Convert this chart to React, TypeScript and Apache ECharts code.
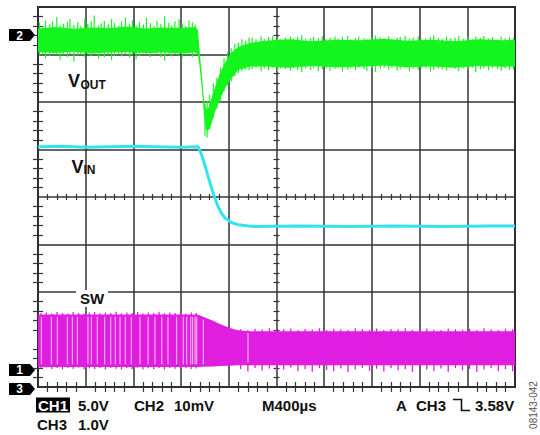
import React, { useEffect, useRef } from "react";
import * as echarts from "echarts";

// ---- time base: M400µs per division, 10 divisions (µs from left edge) ----
const timeMin = 0;
const timeMax = 4000;
const timePerDiv = 400;

// ---- CH2  V_OUT (AC coupled, 10 mV/div) in mV : noise band envelope ----
const vOutT = [0, 150, 300, 450, 600, 750, 900, 1050, 1200, 1320, 1342, 1354, 1367, 1380, 1392, 1409, 1426, 1451, 1484, 1526, 1568, 1610, 1677, 1778, 1900, 2100, 2300, 2500, 2700, 2900, 3100, 3300, 3500, 3700, 3900, 4000];
const vOutHi = [1.4, 1.7, 1.3, 1.6, 1.5, 1.8, 1.4, 1.6, 1.5, 1.7, 1.0, -3.0, -6.5, -10.0, -13.5, -15.5, -15.5, -13.6, -11.0, -8.0, -5.9, -4.0, -2.5, -1.7, -1.2, -0.9, -1.3, -1.0, -1.1, -0.8, -1.2, -1.0, -1.3, -0.9, -1.1, -1.0];
const vOutLo = [-3.6, -3.8, -3.5, -3.9, -3.7, -3.6, -3.8, -3.7, -3.9, -3.6, -4.2, -6.5, -9.5, -13.0, -17.0, -20.0, -20.2, -19.0, -16.2, -13.5, -11.2, -9.5, -7.4, -6.6, -6.6, -6.9, -6.5, -6.8, -6.7, -6.4, -6.8, -6.6, -6.9, -6.5, -6.7, -6.6];

// V_OUT noise spikes (mV): before, during and after the transient
const vOutSpikeT = [12, 41, 63, 98, 121, 158, 186, 214, 247, 268, 301, 333, 359, 392, 418, 447, 471, 508, 529, 556, 590, 617, 641, 676, 702, 733, 768, 791, 823, 851, 884, 909, 942, 975, 998, 1031, 1062, 1097, 1119, 1148, 1183, 1209, 1238, 1266, 1294, 1318,
  1400, 1418, 1440, 1470, 1500, 1530, 1560, 1590, 1620, 1650, 1680, 1710, 1740, 1770,
  1795, 1828, 1871, 1897, 1934, 1968, 2009, 2033, 2074, 2118, 2141, 2177, 2212, 2246, 2287, 2309, 2351, 2384, 2418, 2449, 2491, 2516, 2553, 2597, 2621, 2662, 2689, 2734, 2757, 2798, 2829, 2871, 2903, 2941, 2968, 3012, 3037, 3079, 3114, 3146, 3188, 3213, 3252, 3291, 3318, 3357, 3389, 3426, 3461, 3497, 3528, 3569, 3603, 3642, 3671, 3712, 3738, 3779, 3811, 3852, 3884, 3917, 3953, 3988];
const vOutSpikeHi = [2.6, 1.9, 3.1, 2.2, 2.9, 3.8, 2.0, 2.4, 2.8, 3.3, 2.1, 2.7, 1.9, 3.5, 2.3, 2.9, 4.1, 2.0, 2.5, 3.0, 2.2, 3.4, 2.6, 1.9, 2.9, 3.7, 2.4, 3.1, 2.0, 2.7, 2.2, 3.6, 2.5, 1.9, 3.0, 2.3, 3.9, 2.6, 2.0, 2.9, 3.3, 2.4, 1.9, 3.0, 2.7, 2.2,
  -14.5, -14.0, -12.5, -10.2, -9.0, -6.8, -4.9, -3.6, -2.8, -1.9, -1.6, -0.9, -1.2, -0.5,
  -0.6, -0.9, -0.3, -0.8, -0.4, -0.2, -0.7, -0.9, -0.5, -0.3, -0.8, -0.4, -0.1, -0.9, -0.6, -0.4, -0.7, -0.2, -0.9, -0.5, -0.3, -0.8, -0.4, -0.2, -0.9, -0.6, -0.3, -0.7, -0.9, -0.4, -0.1, -0.5, -0.8, -0.3, -0.9, -0.6, -0.4, -0.2, -0.8, -0.5, -0.3, -0.9, -0.7, -0.4, -0.1, -0.6, -0.9, -0.3, -0.7, -0.5, -0.2, -0.8, -0.4, -0.9, -0.3, -0.6, -0.2, -0.8, -0.5, -0.9, -0.3, -0.7, -0.4, -0.6];
const vOutSpikeLo = [-4.3, -4.0, -4.9, -4.4, -3.9, -4.1, -5.2, -4.2, -4.6, -4.0, -5.5, -4.3, -4.1, -4.7, -4.1, -4.4, -3.9, -5.0, -4.2, -4.6, -4.1, -5.3, -4.3, -4.0, -4.5, -4.0, -4.8, -4.2, -5.1, -4.4, -3.9, -4.1, -4.7, -4.2, -4.0, -4.6, -5.4, -4.1, -4.5, -4.0, -4.3, -4.9, -4.2, -4.1, -4.6, -4.2,
  -21.2, -21.5, -19.8, -17.3, -15.5, -14.2, -11.9, -10.6, -9.8, -8.6, -8.0, -7.6, -7.3, -7.4,
  -7.2, -6.9, -7.6, -7.1, -7.4, -6.9, -7.7, -7.0, -7.2, -7.5, -6.9, -7.3, -7.8, -7.0, -7.4, -6.9, -7.6, -7.2, -7.0, -7.5, -7.1, -6.9, -7.7, -7.3, -7.0, -7.4, -6.9, -7.2, -7.6, -7.0, -7.8, -7.1, -6.9, -7.3, -7.0, -7.5, -7.2, -6.9, -7.6, -7.1, -7.4, -7.0, -6.9, -7.7, -7.3, -7.0, -7.2, -7.5, -6.9, -7.1, -7.6, -7.0, -7.3, -6.9, -7.8, -7.2, -7.0, -7.4, -6.9, -7.1, -7.5, -7.0, -7.3, -7.2];

// ---- CH3  V_IN (1.0 V/div) in V ----
const vInT = [0, 200, 400, 600, 800, 1000, 1200, 1344, 1373, 1400, 1428, 1457, 1484, 1512, 1541, 1568, 1624, 1680, 1764, 1820, 2200, 2600, 3000, 3400, 3800, 4000];
const vInV = [5.1, 5.11, 5.09, 5.1, 5.11, 5.1, 5.09, 5.1, 4.92, 4.71, 4.46, 4.22, 4.01, 3.83, 3.69, 3.6, 3.5, 3.46, 3.43, 3.42, 3.43, 3.42, 3.43, 3.42, 3.43, 3.43];

// ---- CH1  SW (5.0 V/div) in V : switching band envelope ----
const swT = [0, 1340, 1384, 1468, 1526, 1610, 1666, 1760, 4000];
const swHi = [5.85, 5.85, 5.6, 5.19, 4.84, 4.42, 4.21, 4.08, 4.08];
const swLo = [0.32, 0.32, 0.34, 0.38, 0.42, 0.46, 0.5, 0.5, 0.5];

const swSpikeT = [25, 70, 115, 160, 205, 250, 295, 340, 385, 430, 475, 520, 565, 610, 655, 700, 745, 790, 835, 880, 925, 970, 1015, 1060, 1105, 1150, 1195, 1240, 1285, 1325,
  1700, 1760, 1820, 1880, 1940, 2000, 2060, 2120, 2180, 2240, 2300, 2360, 2420, 2480, 2540, 2600, 2660, 2720, 2780, 2840, 2900, 2960, 3020, 3080, 3140, 3200, 3260, 3320, 3380, 3440, 3500, 3560, 3620, 3680, 3740, 3800, 3860, 3920, 3980];
const swSpikeHi = [6.0, 6.05, 5.95, 6.1, 6.0, 5.95, 6.1, 6.0, 5.95, 6.05, 6.1, 5.98, 6.05, 6.0, 6.12, 5.96, 6.04, 6.0, 6.1, 5.97, 6.05, 6.0, 6.12, 5.98, 6.05, 6.0, 6.1, 5.96, 6.04, 6.0,
  4.3, 4.2, 4.35, 4.25, 4.4, 4.2, 4.3, 4.38, 4.22, 4.32, 4.26, 4.4, 4.2, 4.34, 4.28, 4.22, 4.4, 4.3, 4.24, 4.36, 4.2, 4.32, 4.28, 4.4, 4.22, 4.3, 4.36, 4.24, 4.2, 4.38, 4.3, 4.26, 4.34, 4.2, 4.4, 4.28, 4.22, 4.34, 4.3];
const swSpikeLo = [0.15, 0.25, 0.1, 0.2, 0.05, 0.2, 0.12, 0.25, 0.08, 0.18, 0.1, 0.22, 0.06, 0.2, 0.14, 0.05, 0.2, 0.1, 0.24, 0.08, 0.18, 0.1, 0.22, 0.05, 0.2, 0.12, 0.06, 0.2, 0.1, 0.16,
  0.1, -0.15, 0.2, -0.05, 0.15, -0.2, 0.05, 0.25, -0.1, 0.1, -0.18, 0.2, 0.0, -0.12, 0.15, -0.2, 0.08, 0.22, -0.08, 0.12, -0.16, 0.18, -0.02, 0.1, -0.2, 0.24, 0.05, -0.1, 0.15, -0.18, 0.2, -0.04, 0.12, -0.2, 0.06, 0.18, -0.12, 0.1, -0.15];

// light aliasing gaps inside the SW band (µs)
const swGapT = [28, 112, 162, 246, 288, 330, 419, 447, 497, 559, 610, 648, 688, 732, 782, 855, 923, 981, 1038, 1090, 1163, 1218, 1247, 1281, 1297, 1317, 1331, 1386, 1761];
const swGapHi = [5.6, 5.6, 5.6, 5.6, 5.6, 5.6, 5.6, 5.6, 5.6, 5.6, 5.6, 5.6, 5.6, 5.6, 5.6, 5.6, 5.6, 5.6, 5.6, 5.6, 5.6, 5.6, 5.6, 5.6, 5.6, 5.6, 5.6, 5.3, 3.9];
const swGapLo = [0.6, 0.6, 0.6, 0.6, 0.6, 0.6, 0.6, 0.6, 0.6, 0.6, 0.6, 0.6, 0.6, 0.6, 0.6, 0.6, 0.6, 0.6, 0.6, 0.6, 0.6, 0.6, 0.6, 0.6, 0.6, 0.6, 0.6, 0.6, 0.8];

// ---- labels ----
const traceLabels = { vout: ["V", "OUT"], vin: ["V", "IN"], sw: "SW" };
const channelMarkers = ["1", "2", "3"];
const scaleTexts = { ch1: ["CH1", "5.0V"], ch2: ["CH2", "10mV"], ch3: ["CH3", "1.0V"] };
const timebaseText = "M400µs";
const triggerTexts = ["A", "CH3", "3.58V"];
const figureId = "08143-042";

const GREEN = "#14f51e";
const CYAN = "#33e3f0";
const MAGENTA = "#e01ee0";
const GRID = "#333333";
const FONT = '"Liberation Sans", Arial, Helvetica, sans-serif';

function bandSeries(yAxisIndex: number, ts: number[], lo: number[], hi: number[], color: string, z: number) {
  return {
    type: "custom",
    xAxisIndex: 0,
    yAxisIndex,
    coordinateSystem: "cartesian2d",
    silent: true,
    z,
    data: ts.map((t, i) => [t, lo[i], hi[i]]),
    encode: { x: 0, y: [1, 2] },
    renderItem: (params: any, api: any) => {
      if (params.dataIndex !== 0) return null;
      const pts: number[][] = [];
      for (let i = 0; i < ts.length; i++) pts.push(api.coord([ts[i], hi[i]]));
      for (let i = ts.length - 1; i >= 0; i--) pts.push(api.coord([ts[i], lo[i]]));
      return { type: "polygon", shape: { points: pts }, style: { fill: color } };
    },
  };
}

function strokeSeries(yAxisIndex: number, ts: number[], lo: number[], hi: number[], color: string, width: number, z: number) {
  return {
    type: "custom",
    xAxisIndex: 0,
    yAxisIndex,
    coordinateSystem: "cartesian2d",
    silent: true,
    z,
    data: ts.map((t, i) => [t, lo[i], hi[i]]),
    encode: { x: 0, y: [1, 2] },
    renderItem: (params: any, api: any) => {
      const a = api.coord([api.value(0), api.value(1)]);
      const b = api.coord([api.value(0), api.value(2)]);
      return {
        type: "line",
        shape: { x1: a[0], y1: a[1], x2: b[0], y2: b[1] },
        style: { stroke: color, lineWidth: width },
      };
    },
  };
}

function tickAxisX(position: string, offset: number, inside: boolean, length: number, split: boolean) {
  return {
    type: "value",
    gridIndex: 0,
    min: timeMin,
    max: timeMax,
    interval: timePerDiv,
    position,
    offset,
    axisLine: { show: false },
    axisTick: { show: false, inside },
    axisLabel: { show: false },
    splitLine: { show: split, lineStyle: { color: GRID, width: 1.5 } },
    minorTick: { show: true, splitNumber: 5, length, lineStyle: { color: GRID, width: 1.2 } },
  };
}

function tickAxisY(position: string, offset: number, inside: boolean, length: number, split: boolean) {
  return {
    type: "value",
    gridIndex: 0,
    min: 0,
    max: 8,
    interval: 1,
    position,
    offset,
    axisLine: { show: false },
    axisTick: { show: false, inside },
    axisLabel: { show: false },
    splitLine: { show: split, lineStyle: { color: GRID, width: 1.5 } },
    minorTick: { show: true, splitNumber: 5, length, lineStyle: { color: GRID, width: 1.2 } },
  };
}

function txt(text: string, x: number, y: number, size: number, extra: any = {}) {
  return {
    type: "text",
    x,
    y,
    z: 100,
    silent: true,
    style: {
      text,
      fill: "#111",
      fontSize: size,
      fontWeight: "bold",
      fontFamily: FONT,
      align: "left",
      verticalAlign: "middle",
      ...extra,
    },
  };
}

function marker(label: string, yc: number) {
  return {
    type: "group",
    x: 9,
    y: yc - 6,
    z: 100,
    children: [
      { type: "polygon", shape: { points: [[0, 0], [21, 0], [26, 6], [21, 12], [0, 12]] }, style: { fill: "#000" } },
      {
        type: "text",
        x: 10.5,
        y: 6.5,
        style: { text: label, fill: "#fff", fontSize: 12, fontWeight: "bold", fontFamily: FONT, align: "center", verticalAlign: "middle" },
      },
    ],
  };
}

export default function App() {
  const ref = useRef<HTMLDivElement>(null);

  useEffect(() => {
    if (!ref.current) return;
    const chart = echarts.init(ref.current, undefined, { renderer: "svg" });

    const option: any = {
      animation: false,
      backgroundColor: "#ffffff",
      grid: { left: 38, top: 7, width: 477, height: 380, show: true, borderColor: "#262626", borderWidth: 2, backgroundColor: "#fff" },
      xAxis: [
        tickAxisX("bottom", 0, true, 5, true),
        tickAxisX("top", 0, true, 5, false),
        tickAxisX("bottom", -190, true, 3, false),
        tickAxisX("bottom", -190, false, 3, false),
      ],
      yAxis: [
        tickAxisY("left", 0, true, 5, true),
        tickAxisY("right", 0, true, 5, false),
        tickAxisY("left", -238.5, true, 3, false),
        tickAxisY("left", -238.5, false, 3, false),
        // CH1 SW: 5 V/div
        { type: "value", show: false, min: -1.79, max: 38.21 },
        // CH2 VOUT: 10 mV/div
        { type: "value", show: false, min: -74.1, max: 5.9 },
        // CH3 VIN: 1 V/div
        { type: "value", show: false, min: 0.042, max: 8.042 },
      ],
      series: [
        bandSeries(4, swT, swLo, swHi, MAGENTA, 3),
        strokeSeries(4, swSpikeT, swSpikeLo, swSpikeHi, MAGENTA, 1.3, 3),
        strokeSeries(4, swGapT, swGapLo, swGapHi, "rgba(255,225,255,0.85)", 1, 4),
        bandSeries(5, vOutT, vOutLo, vOutHi, GREEN, 3),
        strokeSeries(5, vOutSpikeT, vOutSpikeLo, vOutSpikeHi, GREEN, 1.2, 3),
        {
          type: "line",
          xAxisIndex: 0,
          yAxisIndex: 6,
          silent: true,
          symbol: "none",
          z: 3,
          data: vInT.map((t, i) => [t, vInV[i]]),
          lineStyle: { color: CYAN, width: 3 },
        },
      ],
    };
    chart.setOption(option);

    const y1 = chart.convertToPixel({ yAxisIndex: 4 } as any, 0) as number;
    const y2 = chart.convertToPixel({ yAxisIndex: 5 } as any, 0) as number;
    const y3 = chart.convertToPixel({ yAxisIndex: 6 } as any, 0) as number;

    const graphic: any[] = [
      marker(channelMarkers[1], y2),
      marker(channelMarkers[0], y1),
      marker(channelMarkers[2], y3),
      txt(traceLabels.vout[0], 68, 80.5, 18),
      txt(traceLabels.vout[1], 80.5, 85, 12),
      txt(traceLabels.vin[0], 71.5, 167, 18),
      txt(traceLabels.vin[1], 83.5, 170, 12),
      txt(traceLabels.sw, 76, 298.5, 15, { backgroundColor: "#fff", padding: [1, 4, 1, 4] }),
      { type: "rect", z: 100, silent: true, shape: { x: 36, y: 397.5, width: 34, height: 15 }, style: { fill: "#000" } },
      txt(scaleTexts.ch1[0], 53, 405.5, 15, { fill: "#fff", align: "center" }),
      txt(scaleTexts.ch1[1], 78, 405.5, 15),
      txt(scaleTexts.ch2[0], 134, 405.5, 15),
      txt(scaleTexts.ch2[1], 174, 405.5, 15),
      txt(timebaseText, 262, 405.5, 15),
      txt(triggerTexts[0], 396, 405.5, 15),
      txt(triggerTexts[1], 416, 405.5, 15),
      {
        type: "polyline",
        z: 100,
        silent: true,
        shape: { points: [[453, 399.5], [461.5, 399.5], [461.5, 410.5], [470, 410.5]] },
        style: { stroke: "#111", lineWidth: 1.6, fill: null },
      },
      txt(triggerTexts[2], 475, 405.5, 15),
      txt(scaleTexts.ch3[0], 37, 424.5, 15),
      txt(scaleTexts.ch3[1], 78, 424.5, 15),
      {
        type: "text",
        x: 533,
        y: 405,
        rotation: Math.PI / 2,
        z: 100,
        silent: true,
        style: { text: figureId, fill: "#555", fontSize: 10, fontFamily: FONT, align: "center", verticalAlign: "middle" },
      },
    ];
    chart.setOption({ graphic });

    return () => chart.dispose();
  }, []);

  return (
    <div
      ref={ref}
      style={{ position: "fixed", left: 0, top: 0, width: 540, height: 435, background: "#fff" }}
    />
  );
}
